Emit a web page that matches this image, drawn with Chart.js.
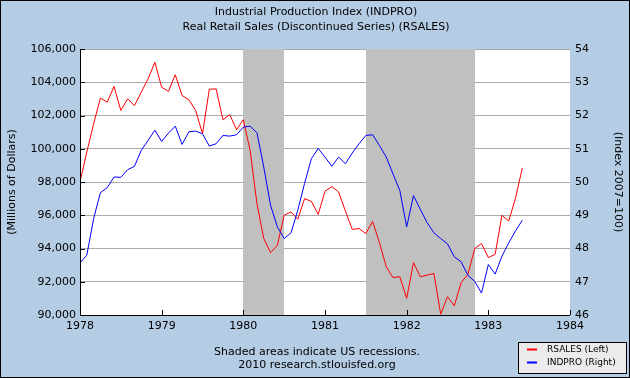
<!DOCTYPE html>
<html>
<head>
<meta charset="utf-8">
<script src="https://cdn.jsdelivr.net/npm/chart.js@4.4.1/dist/chart.umd.min.js"></script>
<style>
  html, body { margin: 0; padding: 0; background: #ffffff; }
  #wrap { width: 630px; height: 378px; position: relative; }
  canvas { display: block; }
</style>
</head>
<body>
<div id="wrap"><canvas id="c" width="630" height="378"></canvas></div>
<script>
// ---- Data (monthly, Jan 1978 .. Jun 1983) ----
const firstYear = 1978;
const titleLines = ['Industrial Production Index (INDPRO)', 'Real Retail Sales (Discontinued Series) (RSALES)'];
const yearTicks = [1978, 1979, 1980, 1981, 1982, 1983, 1984];
const leftTicks = [90000, 92000, 94000, 96000, 98000, 100000, 102000, 104000, 106000];
const rightTicks = [46, 47, 48, 49, 50, 51, 52, 53, 54];
const seriesNames = ['RSALES (Left)', 'INDPRO (Right)'];
const rsales = [
  98000, 99800, 101500, 103050, 102800, 103750, 102300, 103000, 102600, 103400, 104200, 105200,
  103700, 103450, 104450, 103200, 102950, 102300, 100900, 103580, 103600, 101750, 102050, 101150,
  101750, 99900, 96700, 94600, 93750, 94200, 96000, 96200, 95760, 97000, 96830, 96050,
  97450, 97720, 97400, 96250, 95150, 95200, 94900, 95630, 94350, 92900, 92250, 92300,
  91000, 93150, 92300, 92400, 92500, 90050, 91100, 90550, 91950, 92450, 94000, 94300,
  93450, 93650, 96000, 95650, 97050, 98850
];
const indpro = [
  47.57, 47.80, 48.90, 49.68, 49.83, 50.15, 50.14, 50.37, 50.47, 50.95, 51.25, 51.56,
  51.22, 51.47, 51.68, 51.13, 51.51, 51.53, 51.45, 51.08, 51.15, 51.40, 51.38, 51.42,
  51.65, 51.68, 51.48, 50.45, 49.30, 48.65, 48.30, 48.47, 49.15, 49.96, 50.70, 51.01,
  50.75, 50.47, 50.75, 50.55, 50.87, 51.15, 51.40, 51.42, 51.10, 50.75, 50.24, 49.74,
  48.65, 49.59, 49.18, 48.78, 48.47, 48.30, 48.14, 47.75, 47.60, 47.19, 47.01, 46.66,
  47.52, 47.23, 47.77, 48.17, 48.53, 48.85
];
const recessionStart = [1980.0, 1981.5];
const recessionEnd = [1980.5, 1982 + 10 / 12];
const notes = ['Shaded areas indicate US recessions.', '2010 research.stlouisfed.org'];

const monthX = i => firstYear + i / 12;
const toPoints = arr => arr.map((v, i) => ({ x: monthX(i), y: v }));

const FONT = '"DejaVu Sans", Verdana, sans-serif';
Chart.defaults.font.family = FONT;
Chart.defaults.font.size = 11;
Chart.defaults.color = '#000000';

const BG = '#B4CCE4';

const decor = {
  id: 'decor',
  beforeDraw(chart) {
    const { ctx, chartArea: a } = chart;
    ctx.save();
    ctx.fillStyle = BG;
    ctx.fillRect(0, 0, chart.width, chart.height);
    ctx.fillStyle = '#ffffff';
    ctx.fillRect(a.left, a.top, a.right - a.left, a.bottom - a.top);
    ctx.restore();
  },
  beforeDatasetsDraw(chart) {
    const { ctx, chartArea: a, scales } = chart;
    ctx.save();
    ctx.fillStyle = '#C0C0C0';
    recessionStart.forEach((s, i) => {
      const x0 = Math.round(scales.x.getPixelForValue(s));
      const x1 = Math.round(scales.x.getPixelForValue(recessionEnd[i]));
      ctx.fillRect(x0, a.top, x1 - x0, a.bottom - a.top);
    });
    ctx.restore();
  },
  afterDatasetsDraw(chart) {
    const { ctx, chartArea: a, scales } = chart;
    ctx.save();
    ctx.strokeStyle = '#000000';
    ctx.lineWidth = 1;
    ctx.beginPath();
    ctx.moveTo(Math.round(a.left) + 0.5, a.top);
    ctx.lineTo(Math.round(a.left) + 0.5, Math.round(a.bottom) + 0.5);
    ctx.lineTo(a.right, Math.round(a.bottom) + 0.5);
    leftTicks.forEach(v => {
      const y = Math.round(scales.y.getPixelForValue(v)) + 0.5;
      ctx.moveTo(a.left, y);
      ctx.lineTo(a.left + 5, y);
    });
    yearTicks.forEach(v => {
      const x = Math.round(scales.x.getPixelForValue(v)) + 0.5;
      ctx.moveTo(x, a.bottom);
      ctx.lineTo(x, a.bottom - 5);
    });
    ctx.stroke();
    ctx.restore();
  },
  afterDraw(chart) {
    const { ctx } = chart;
    ctx.save();
    ctx.fillStyle = '#000000';
    ctx.font = '11px ' + FONT;
    ctx.textAlign = 'center';
    ctx.textBaseline = 'middle';
    ctx.fillText(titleLines[0], 316, 12);
    ctx.fillText(titleLines[1], 316, 27);
    ctx.fillText(notes[0], 317, 352);
    ctx.fillText(notes[1], 317, 365);
    ctx.fillStyle = '#EBEBEB';
    ctx.fillRect(518, 342, 108, 32);
    ctx.strokeStyle = '#000000';
    ctx.lineWidth = 1;
    ctx.strokeRect(518.5, 342.5, 108, 31);
    const colors = chart.data.datasets.map(d => d.borderColor);
    const ys = [349.5, 362.5];
    ctx.font = '9px ' + FONT;
    ctx.textAlign = 'left';
    seriesNames.forEach((name, i) => {
      ctx.strokeStyle = colors[i];
      ctx.lineWidth = 2;
      ctx.beginPath();
      ctx.moveTo(527, ys[i]);
      ctx.lineTo(537, ys[i]);
      ctx.stroke();
      ctx.fillStyle = '#000000';
      ctx.fillText(name, 547, ys[i]);
    });
    ctx.strokeStyle = '#000000';
    ctx.lineWidth = 1;
    ctx.strokeRect(0.5, 0.5, chart.width - 1, chart.height - 1);
    ctx.restore();
  }
};

new Chart(document.getElementById('c'), {
  type: 'line',
  data: {
    datasets: [
      { label: seriesNames[0], data: toPoints(rsales), yAxisID: 'y', borderColor: '#FF0000', borderWidth: 1, pointRadius: 0, tension: 0, fill: false, order: 2 },
      { label: seriesNames[1], data: toPoints(indpro), yAxisID: 'y1', borderColor: '#0000FF', borderWidth: 1, pointRadius: 0, tension: 0, fill: false, order: 1 }
    ]
  },
  options: {
    responsive: false,
    animation: false,
    devicePixelRatio: 1,
    layout: { padding: { top: 49, left: 0, right: 0, bottom: 0 } },
    plugins: { legend: { display: false }, title: { display: false }, tooltip: { enabled: false } },
    scales: {
      x: {
        type: 'linear', min: 1978, max: 1984,
        afterFit(s) { s.height = 63; },
        afterBuildTicks(s) { s.ticks = yearTicks.map(v => ({ value: v })); },
        ticks: { callback: v => String(v), padding: 5, maxRotation: 0, autoSkip: false, font: { size: 11 } },
        grid: { display: false, drawTicks: false },
        border: { display: false }
      },
      y: {
        position: 'left', min: 90000, max: 106000,
        afterFit(s) { s.width = 80; },
        afterBuildTicks(s) { s.ticks = leftTicks.map(v => ({ value: v })); },
        ticks: { callback: v => v.toLocaleString('en-US'), padding: 4, font: { size: 11 } },
        grid: { color: '#AAAAAA', lineWidth: 1, drawTicks: false },
        border: { display: false },
        title: { display: true, text: '(Millions of Dollars)', padding: { top: 6, bottom: 0 }, font: { size: 11 } }
      },
      y1: {
        position: 'right', min: 46, max: 54,
        afterFit(s) { s.width = 60; },
        afterBuildTicks(s) { s.ticks = rightTicks.map(v => ({ value: v })); },
        ticks: { callback: v => String(v), padding: 5, font: { size: 11 } },
        grid: { drawOnChartArea: false, drawTicks: false },
        border: { display: false },
        title: { display: true, text: '(Index 2007=100)', padding: { top: 6, bottom: 0 }, font: { size: 11 } }
      }
    }
  },
  plugins: [decor]
});
</script>
</body>
</html>
